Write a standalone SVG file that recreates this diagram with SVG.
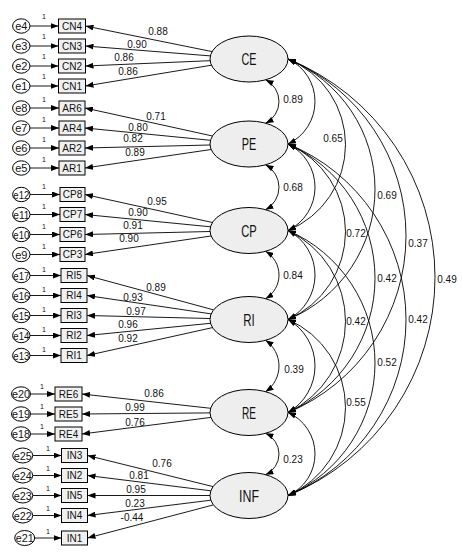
<svg xmlns="http://www.w3.org/2000/svg" width="462" height="558" viewBox="0 0 462 558">
<style>
.err ellipse{fill:#fff;stroke:#000;stroke-width:1}
.err text{font-family:"Liberation Sans",Arial,sans-serif;font-size:11px;text-anchor:middle;fill:#111}
.ind rect{fill:#f0f0f0;stroke:#000;stroke-width:1}
.ind text{font-family:"Liberation Sans",Arial,sans-serif;font-size:10px;text-anchor:middle;fill:#111}
.fac ellipse{fill:#eeeeee;stroke:#000;stroke-width:1}
.fac text{font-family:"Liberation Sans Narrow","Liberation Sans",Arial,sans-serif;font-size:17px;text-anchor:middle;fill:#111}
.one{font-family:"Liberation Sans",Arial,sans-serif;font-size:7px;text-anchor:middle;fill:#111}
.num{font-family:"Liberation Sans",Arial,sans-serif;font-size:10px;text-anchor:middle;fill:#111}
#connectors path,#connectors line{fill:none;stroke:#000;stroke-width:0.9}
.arr{marker-end:url(#ah)}
.dbl{marker-start:url(#ah);marker-end:url(#ah)}
</style>
<defs>
<marker id="ah" viewBox="0 0 8 6" refX="8" refY="3" markerWidth="8" markerHeight="6" markerUnits="userSpaceOnUse" orient="auto-start-reverse"><path d="M0,0 L8,3 L0,6 z" fill="#000"/></marker>
</defs>
<rect width="462" height="558" fill="#fff"/>

<g id="connectors">
<!-- error to indicator -->
<line class="arr" x1="30" y1="26" x2="58.5" y2="26"/>
<line class="arr" x1="30" y1="46" x2="58.5" y2="46"/>
<line class="arr" x1="30" y1="66" x2="58.5" y2="66"/>
<line class="arr" x1="30" y1="86" x2="58.5" y2="86"/>
<line class="arr" x1="30" y1="108" x2="59" y2="108"/>
<line class="arr" x1="30" y1="128" x2="59" y2="128"/>
<line class="arr" x1="30" y1="148" x2="59" y2="148"/>
<line class="arr" x1="30" y1="168" x2="59" y2="168"/>
<line class="arr" x1="30" y1="194.5" x2="60" y2="194.5"/>
<line class="arr" x1="30" y1="214.5" x2="60" y2="214.5"/>
<line class="arr" x1="30" y1="234.5" x2="60" y2="234.5"/>
<line class="arr" x1="30" y1="254.5" x2="60" y2="254.5"/>
<line class="arr" x1="30" y1="275.5" x2="61" y2="275.5"/>
<line class="arr" x1="30" y1="295.5" x2="61" y2="295.5"/>
<line class="arr" x1="30" y1="315.5" x2="61" y2="315.5"/>
<line class="arr" x1="30" y1="335.5" x2="61" y2="335.5"/>
<line class="arr" x1="30" y1="355.5" x2="61" y2="355.5"/>
<line class="arr" x1="30.5" y1="394" x2="55" y2="394"/>
<line class="arr" x1="30.5" y1="414" x2="55" y2="414"/>
<line class="arr" x1="30.5" y1="434" x2="55" y2="434"/>
<line class="arr" x1="32.7" y1="455.5" x2="61.5" y2="455.5"/>
<line class="arr" x1="32.7" y1="475.5" x2="61.5" y2="475.5"/>
<line class="arr" x1="32.7" y1="495.5" x2="61.5" y2="495.5"/>
<line class="arr" x1="32.7" y1="515.5" x2="61.5" y2="515.5"/>
<line class="arr" x1="34.7" y1="538" x2="61.5" y2="538"/>
<!-- loadings -->
<line class="arr" x1="212.1" y1="51.6" x2="85.5" y2="26"/>
<line class="arr" x1="210.4" y1="55.9" x2="85.5" y2="46"/>
<line class="arr" x1="210.1" y1="60.7" x2="85.5" y2="66"/>
<line class="arr" x1="211.5" y1="65.2" x2="85.5" y2="86"/>
<line class="arr" x1="212.5" y1="136" x2="85" y2="108"/>
<line class="arr" x1="210.5" y1="140.3" x2="85" y2="128"/>
<line class="arr" x1="210" y1="145" x2="85" y2="148"/>
<line class="arr" x1="211.1" y1="149.5" x2="85" y2="168"/>
<line class="arr" x1="212.5" y1="222.5" x2="85" y2="194.5"/>
<line class="arr" x1="210.5" y1="226.8" x2="85" y2="214.5"/>
<line class="arr" x1="210" y1="231.5" x2="85" y2="234.5"/>
<line class="arr" x1="211.1" y1="236" x2="85" y2="254.5"/>
<line class="arr" x1="213.6" y1="309.9" x2="87" y2="275.5"/>
<line class="arr" x1="211.2" y1="313.9" x2="87" y2="295.5"/>
<line class="arr" x1="210" y1="318.5" x2="87" y2="315.5"/>
<line class="arr" x1="210.5" y1="323.3" x2="87" y2="335.5"/>
<line class="arr" x1="212.5" y1="327.6" x2="87" y2="355.5"/>
<line class="arr" x1="210.7" y1="408.3" x2="82" y2="394"/>
<line class="arr" x1="210" y1="412.9" x2="82" y2="414"/>
<line class="arr" x1="210.9" y1="417.4" x2="82" y2="434"/>
<line class="arr" x1="213" y1="486.6" x2="87.5" y2="455.5"/>
<line class="arr" x1="210.8" y1="490.8" x2="87.5" y2="475.5"/>
<line class="arr" x1="210" y1="495.5" x2="87.5" y2="495.5"/>
<line class="arr" x1="210.8" y1="500.2" x2="87.5" y2="515.5"/>
<line class="arr" x1="213.4" y1="504.9" x2="87.5" y2="538"/>
<!-- small adjacent covariances -->
<path class="dbl" d="M265.5 79.8 A24.19 24.19 0 0 1 265.5 123.2"/>
<path class="dbl" d="M265.5 164.8 A25.42 25.42 0 0 1 265.5 209.7"/>
<path class="dbl" d="M265.5 251.3 A27.55 27.55 0 0 1 265.5 298.7"/>
<path class="dbl" d="M265.5 340.3 A31.21 31.21 0 0 1 265.5 391.7"/>
<path class="dbl" d="M265.5 433.3 A22.62 22.62 0 0 1 265.5 474.7"/>
<!-- right side covariances -->
<path class="dbl" d="M288 59 A46.95 46.95 0 0 1 288 144"/>
<path class="dbl" d="M288 144 A48.14 48.14 0 0 1 288 230.5"/>
<path class="dbl" d="M288 230.5 A50.17 50.17 0 0 1 288 319.5"/>
<path class="dbl" d="M288 319.5 A53.54 53.54 0 0 1 288 412.5"/>
<path class="dbl" d="M288 412.5 A45.39 45.39 0 0 1 288 495.5"/>
<path class="dbl" d="M288 59 A92.69 92.69 0 0 1 288 230.5"/>
<path class="dbl" d="M288 144 A95.71 95.71 0 0 1 288 319.5"/>
<path class="dbl" d="M288 230.5 A100.76 100.76 0 0 1 288 412.5"/>
<path class="dbl" d="M288 319.5 A96.09 96.09 0 0 1 288 495.5"/>
<path class="dbl" d="M288 59 A141 141 0 0 1 288 319.5"/>
<path class="dbl" d="M288 144 A147.08 147.08 0 0 1 288 412.5"/>
<path class="dbl" d="M288 230.5 A144.4 144.4 0 0 1 288 495.5"/>
<path class="dbl" d="M288 59 A191.38 191.38 0 0 1 288 412.5"/>
<path class="dbl" d="M288 144 A189.88 189.88 0 0 1 288 495.5"/>
<path class="dbl" d="M288 59 A235.52 235.52 0 0 1 288 495.5"/>
<!-- labels -->
<g>
<text class="one" x="44" y="19">1</text><text class="one" x="44" y="39">1</text><text class="one" x="44" y="59">1</text><text class="one" x="44" y="79">1</text>
<text class="one" x="44" y="102">1</text><text class="one" x="44" y="122">1</text><text class="one" x="44" y="142">1</text><text class="one" x="44" y="162">1</text>
<text class="one" x="44" y="188.5">1</text><text class="one" x="44" y="208.5">1</text><text class="one" x="44" y="228.5">1</text><text class="one" x="44" y="248.5">1</text>
<text class="one" x="44" y="272">1</text><text class="one" x="44" y="292">1</text><text class="one" x="44" y="312">1</text><text class="one" x="44" y="332">1</text><text class="one" x="44" y="352">1</text>
<text class="one" x="42" y="389">1</text><text class="one" x="42" y="409">1</text><text class="one" x="42" y="429">1</text>
<text class="one" x="48" y="451">1</text><text class="one" x="48" y="471">1</text><text class="one" x="48" y="491">1</text><text class="one" x="48" y="511">1</text><text class="one" x="48" y="533.5">1</text>
</g>
<g>
<text class="num" x="158" y="34.6">0.88</text>
<text class="num" x="137" y="47.6">0.90</text>
<text class="num" x="124" y="60.6">0.86</text>
<text class="num" x="128" y="74.6">0.86</text>
<text class="num" x="156" y="119.6">0.71</text>
<text class="num" x="138" y="130.6">0.80</text>
<text class="num" x="133" y="141.6">0.82</text>
<text class="num" x="135" y="155.6">0.89</text>
<text class="num" x="157" y="204.6">0.95</text>
<text class="num" x="138" y="215.6">0.90</text>
<text class="num" x="133" y="228.6">0.91</text>
<text class="num" x="129" y="241.6">0.90</text>
<text class="num" x="156" y="290.6">0.89</text>
<text class="num" x="133" y="300.6">0.93</text>
<text class="num" x="136" y="314.6">0.97</text>
<text class="num" x="128" y="327.6">0.96</text>
<text class="num" x="128" y="341.6">0.92</text>
<text class="num" x="154" y="396.6">0.86</text>
<text class="num" x="135" y="410.6">0.99</text>
<text class="num" x="135" y="425.6">0.76</text>
<text class="num" x="162" y="466.6">0.76</text>
<text class="num" x="139" y="478.6">0.81</text>
<text class="num" x="136" y="492.6">0.95</text>
<text class="num" x="135" y="506.6">0.23</text>
<text class="num" x="132" y="520.6">-0.44</text>
<text class="num" x="293" y="102.6">0.89</text>
<text class="num" x="293" y="190.6">0.68</text>
<text class="num" x="293" y="278.6">0.84</text>
<text class="num" x="294" y="372.6">0.39</text>
<text class="num" x="293" y="462.6">0.23</text>
<text class="num" x="333" y="141.6">0.65</text>
<text class="num" x="387" y="198.6">0.69</text>
<text class="num" x="418" y="246.6">0.37</text>
<text class="num" x="447" y="282.6">0.49</text>
<text class="num" x="356" y="236.6">0.72</text>
<text class="num" x="387" y="281.6">0.42</text>
<text class="num" x="356" y="324.6">0.42</text>
<text class="num" x="418" y="322.6">0.42</text>
<text class="num" x="387" y="365.6">0.52</text>
<text class="num" x="356" y="405.6">0.55</text>
</g>
</g>

<!-- error terms -->
<g id="e4" class="err"><ellipse cx="21.3" cy="26" rx="8.7" ry="7.2"/><text x="21.3" y="30">e4</text></g>
<g id="e3" class="err"><ellipse cx="21.3" cy="46" rx="8.7" ry="7.2"/><text x="21.3" y="50">e3</text></g>
<g id="e2" class="err"><ellipse cx="21.3" cy="66" rx="8.7" ry="7.2"/><text x="21.3" y="70">e2</text></g>
<g id="e1" class="err"><ellipse cx="21.3" cy="86" rx="8.7" ry="7.2"/><text x="21.3" y="90">e1</text></g>
<g id="e8" class="err"><ellipse cx="21.3" cy="108" rx="8.7" ry="7.2"/><text x="21.3" y="112">e8</text></g>
<g id="e7" class="err"><ellipse cx="21.3" cy="128" rx="8.7" ry="7.2"/><text x="21.3" y="132">e7</text></g>
<g id="e6" class="err"><ellipse cx="21.3" cy="148" rx="8.7" ry="7.2"/><text x="21.3" y="152">e6</text></g>
<g id="e5" class="err"><ellipse cx="21.3" cy="168" rx="8.7" ry="7.2"/><text x="21.3" y="172">e5</text></g>
<g id="e12" class="err"><ellipse cx="21.3" cy="194.5" rx="8.7" ry="7.2"/><text x="21.3" y="198.5" textLength="16" lengthAdjust="spacingAndGlyphs">e12</text></g>
<g id="e11" class="err"><ellipse cx="21.3" cy="214.5" rx="8.7" ry="7.2"/><text x="21.3" y="218.5" textLength="16" lengthAdjust="spacingAndGlyphs">e11</text></g>
<g id="e10" class="err"><ellipse cx="21.3" cy="234.5" rx="8.7" ry="7.2"/><text x="21.3" y="238.5" textLength="16" lengthAdjust="spacingAndGlyphs">e10</text></g>
<g id="e9" class="err"><ellipse cx="21.3" cy="254.5" rx="8.7" ry="7.2"/><text x="21.3" y="258.5">e9</text></g>
<g id="e17" class="err"><ellipse cx="21.3" cy="275.5" rx="8.7" ry="7.2"/><text x="21.3" y="279.5" textLength="16" lengthAdjust="spacingAndGlyphs">e17</text></g>
<g id="e16" class="err"><ellipse cx="21.3" cy="295.5" rx="8.7" ry="7.2"/><text x="21.3" y="299.5" textLength="16" lengthAdjust="spacingAndGlyphs">e16</text></g>
<g id="e15" class="err"><ellipse cx="21.3" cy="315.5" rx="8.7" ry="7.2"/><text x="21.3" y="319.5" textLength="16" lengthAdjust="spacingAndGlyphs">e15</text></g>
<g id="e14" class="err"><ellipse cx="21.3" cy="335.5" rx="8.7" ry="7.2"/><text x="21.3" y="339.5" textLength="16" lengthAdjust="spacingAndGlyphs">e14</text></g>
<g id="e13" class="err"><ellipse cx="21.3" cy="355.5" rx="8.7" ry="7.2"/><text x="21.3" y="359.5" textLength="16" lengthAdjust="spacingAndGlyphs">e13</text></g>
<g id="e20" class="err"><ellipse cx="21" cy="394" rx="9.5" ry="7.2"/><text x="21" y="398" textLength="18" lengthAdjust="spacingAndGlyphs">e20</text></g>
<g id="e19" class="err"><ellipse cx="21" cy="414" rx="9.5" ry="7.2"/><text x="21" y="418" textLength="18" lengthAdjust="spacingAndGlyphs">e19</text></g>
<g id="e18" class="err"><ellipse cx="21" cy="434" rx="9.5" ry="7.2"/><text x="21" y="438" textLength="18" lengthAdjust="spacingAndGlyphs">e18</text></g>
<g id="e25" class="err"><ellipse cx="22.7" cy="455.5" rx="10" ry="7.5"/><text x="22.7" y="459.5" textLength="18" lengthAdjust="spacingAndGlyphs">e25</text></g>
<g id="e24" class="err"><ellipse cx="22.7" cy="475.5" rx="10" ry="7.5"/><text x="22.7" y="479.5" textLength="18" lengthAdjust="spacingAndGlyphs">e24</text></g>
<g id="e23" class="err"><ellipse cx="22.7" cy="495.5" rx="10" ry="7.5"/><text x="22.7" y="499.5" textLength="18" lengthAdjust="spacingAndGlyphs">e23</text></g>
<g id="e22" class="err"><ellipse cx="22.7" cy="515.5" rx="10" ry="7.5"/><text x="22.7" y="519.5" textLength="18" lengthAdjust="spacingAndGlyphs">e22</text></g>
<g id="e21" class="err"><ellipse cx="24.7" cy="538" rx="10" ry="7.5"/><text x="24.7" y="542" textLength="18" lengthAdjust="spacingAndGlyphs">e21</text></g>

<!-- indicators -->
<g id="CN4" class="ind"><rect x="58.5" y="19" width="27" height="14"/><text x="72" y="29.6">CN4</text></g>
<g id="CN3" class="ind"><rect x="58.5" y="39" width="27" height="14"/><text x="72" y="49.6">CN3</text></g>
<g id="CN2" class="ind"><rect x="58.5" y="59" width="27" height="14"/><text x="72" y="69.6">CN2</text></g>
<g id="CN1" class="ind"><rect x="58.5" y="79" width="27" height="14"/><text x="72" y="89.6">CN1</text></g>
<g id="AR6" class="ind"><rect x="59" y="101" width="26" height="14"/><text x="72" y="111.6">AR6</text></g>
<g id="AR4" class="ind"><rect x="59" y="121" width="26" height="14"/><text x="72" y="131.6">AR4</text></g>
<g id="AR2" class="ind"><rect x="59" y="141" width="26" height="14"/><text x="72" y="151.6">AR2</text></g>
<g id="AR1" class="ind"><rect x="59" y="161" width="26" height="14"/><text x="72" y="171.6">AR1</text></g>
<g id="CP8" class="ind"><rect x="60" y="187.5" width="25" height="14"/><text x="72.5" y="198.1">CP8</text></g>
<g id="CP7" class="ind"><rect x="60" y="207.5" width="25" height="14"/><text x="72.5" y="218.1">CP7</text></g>
<g id="CP6" class="ind"><rect x="60" y="227.5" width="25" height="14"/><text x="72.5" y="238.1">CP6</text></g>
<g id="CP3" class="ind"><rect x="60" y="247.5" width="25" height="14"/><text x="72.5" y="258.1">CP3</text></g>
<g id="RI5" class="ind"><rect x="61" y="268.5" width="26" height="14"/><text x="74" y="279.1">RI5</text></g>
<g id="RI4" class="ind"><rect x="61" y="288.5" width="26" height="14"/><text x="74" y="299.1">RI4</text></g>
<g id="RI3" class="ind"><rect x="61" y="308.5" width="26" height="14"/><text x="74" y="319.1">RI3</text></g>
<g id="RI2" class="ind"><rect x="61" y="328.5" width="26" height="14"/><text x="74" y="339.1">RI2</text></g>
<g id="RI1" class="ind"><rect x="61" y="348.5" width="26" height="14"/><text x="74" y="359.1">RI1</text></g>
<g id="RE6" class="ind"><rect x="55" y="387" width="27" height="14"/><text x="68.5" y="397.6">RE6</text></g>
<g id="RE5" class="ind"><rect x="55" y="407" width="27" height="14"/><text x="68.5" y="417.6">RE5</text></g>
<g id="RE4" class="ind"><rect x="55" y="427" width="27" height="14"/><text x="68.5" y="437.6">RE4</text></g>
<g id="IN3" class="ind"><rect x="61.5" y="448.5" width="26" height="14"/><text x="74.5" y="459.1">IN3</text></g>
<g id="IN2" class="ind"><rect x="61.5" y="468.5" width="26" height="14"/><text x="74.5" y="479.1">IN2</text></g>
<g id="IN5" class="ind"><rect x="61.5" y="488.5" width="26" height="14"/><text x="74.5" y="499.1">IN5</text></g>
<g id="IN4" class="ind"><rect x="61.5" y="508.5" width="26" height="14"/><text x="74.5" y="519.1">IN4</text></g>
<g id="IN1" class="ind"><rect x="61.5" y="531" width="26" height="14"/><text x="74.5" y="541.6">IN1</text></g>

<!-- factors -->
<g id="CE" class="fac"><ellipse cx="249" cy="59" rx="39" ry="23"/><text x="249" y="65.2" textLength="15" lengthAdjust="spacingAndGlyphs">CE</text></g>
<g id="PE" class="fac"><ellipse cx="249" cy="144" rx="39" ry="23"/><text x="249" y="150.2" textLength="14.5" lengthAdjust="spacingAndGlyphs">PE</text></g>
<g id="CP" class="fac"><ellipse cx="249" cy="230.5" rx="39" ry="23"/><text x="249" y="236.7" textLength="15.5" lengthAdjust="spacingAndGlyphs">CP</text></g>
<g id="RI" class="fac"><ellipse cx="249" cy="319.5" rx="39" ry="23"/><text x="249" y="325.7" textLength="11.5" lengthAdjust="spacingAndGlyphs">RI</text></g>
<g id="RE" class="fac"><ellipse cx="249" cy="412.5" rx="39" ry="23"/><text x="249" y="418.7" textLength="14" lengthAdjust="spacingAndGlyphs">RE</text></g>
<g id="INF" class="fac"><ellipse cx="249" cy="495.5" rx="39" ry="23"/><text x="249" y="501.7" textLength="20" lengthAdjust="spacingAndGlyphs">INF</text></g>
</svg>
